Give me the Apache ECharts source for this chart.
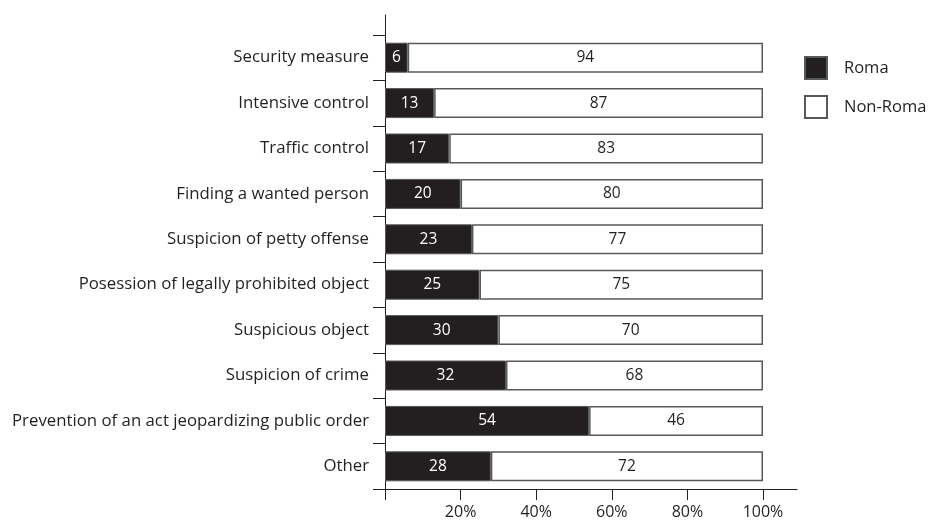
<!DOCTYPE html>
<html><head><meta charset="utf-8">
<script src="https://cdn.jsdelivr.net/npm/echarts@6/dist/echarts.min.js"></script>
<style>html,body{margin:0;padding:0;background:#fff}#c{width:929px;height:521px}</style>
</head><body><div id="c"></div>
<script>
const categories = ["Security measure","Intensive control","Traffic control","Finding a wanted person","Suspicion of petty offense","Posession of legally prohibited object","Suspicious object","Suspicion of crime","Prevention of an act jeopardizing public order","Other"];
const roma = [6,13,17,20,23,25,30,32,54,28];
const nonRoma = [94,87,83,80,77,75,70,68,46,72];
const xTicks = [0,20,40,60,80,100];

const FONT = "Open Sans";
const INK = "#231f20";
const EDGE = "#58595b";

const chart = echarts.init(document.getElementById('c'), null, {renderer:'canvas'});
chart.setOption({
  animation:false,
  textStyle:{fontFamily:FONT},
  legend:{
    orient:'vertical', left:804, top:56, padding:0, itemWidth:22, itemHeight:22, itemGap:15,
    icon:'rect',
    data:['Roma','Non-Roma'],
    textStyle:{fontFamily:FONT, fontSize:16.5, color:INK, padding:[0,0,0,12]}
  },
  grid:[
    {left:385, width:378, top:35, height:454},
    {left:385, right:132, top:15, bottom:32}
  ],
  xAxis:[
    {type:'value', gridIndex:0, min:xTicks[0], max:xTicks[xTicks.length-1], interval:20,
     axisLine:{show:true, lineStyle:{color:INK, width:1}},
     axisTick:{show:true, length:11, lineStyle:{color:INK}},
     splitLine:{show:false},
     axisLabel:{fontFamily:FONT, fontSize:16, color:INK, margin:15,
       formatter:v => v===0 ? '' : v+'%'}},
    {type:'value', gridIndex:1, min:0, max:1,
     axisLine:{show:true, lineStyle:{color:INK, width:1}},
     axisTick:{show:false}, axisLabel:{show:false}, splitLine:{show:false}}
  ],
  yAxis:[
    {type:'category', gridIndex:0, data:categories, inverse:true,
     axisLine:{show:true, lineStyle:{color:INK, width:1}},
     axisTick:{show:true, length:12, lineStyle:{color:INK}},
     axisLabel:{fontFamily:FONT, fontSize:16.8, color:INK, margin:16}},
    {type:'value', gridIndex:1, min:0, max:1,
     axisLine:{show:true, lineStyle:{color:INK, width:1}},
     axisTick:{show:false}, axisLabel:{show:false}, splitLine:{show:false}}
  ],
  series:[
    {name:'Roma', type:'bar', stack:'s', xAxisIndex:0, yAxisIndex:0, data:roma, barWidth:30,
     itemStyle:{color:INK, borderColor:EDGE, borderWidth:1},
     label:{show:true, position:'inside', color:'#fff', fontFamily:FONT, fontSize:15.5}},
    {name:'Non-Roma', type:'bar', stack:'s', xAxisIndex:0, yAxisIndex:0, data:nonRoma, barWidth:30,
     itemStyle:{color:'#fff', borderColor:EDGE, borderWidth:1.5},
     label:{show:true, position:'inside', color:INK, fontFamily:FONT, fontSize:15.5}}
  ]
});
</script></body></html>
